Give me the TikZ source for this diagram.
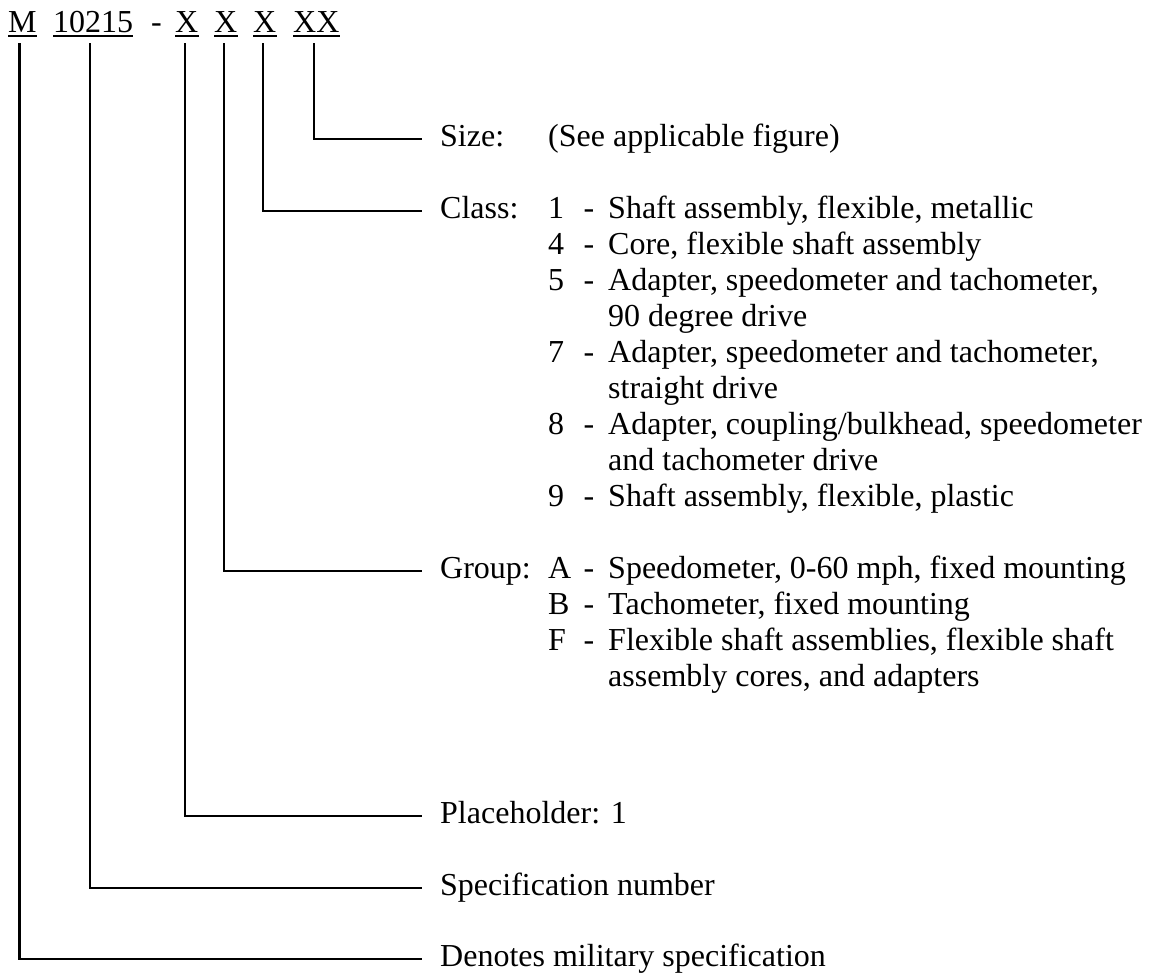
\documentclass[tikz,border=0pt]{standalone}
\usepackage{fontspec}
\setmainfont{Liberation Serif}

\begin{document}
\begin{tikzpicture}[x=1pt,y=-1pt,
  every node/.style={inner sep=0pt,anchor=base west,font=\fontsize{32}{36}\selectfont},
  lead/.style={line width=2.2pt},
  uline/.style={line width=2pt}]

\useasboundingbox (0,0) rectangle (1155,977);

% part number
\node (m) at (8,32) {M};
\node (spec) at (53,32) {10215};
\node (dash) at (151,32) {-};
\node (x1) at (175,32) {X};
\node (x2) at (214,32) {X};
\node (x3) at (253,32) {X};
\node (xx) at (293,32) {XX};

\foreach \p in {m,spec,x1,x2,x3,xx}
  \draw[uline] ([yshift=-4pt]\p.base west) -- ([yshift=-4pt]\p.base east);

% labels
\node (size) at (440,146) {Size:};
\node (sizetxt) at (548,146) {(See applicable figure)};
\node (class) at (440,218) {Class:};
\node (group) at (440,578) {Group:};
\node (place) at (440,823) {Placeholder: 1};
\node (specnum) at (440,895) {Specification number};
\node (denote) at (440,966) {Denotes military specification};

% class entries
\foreach \r/\n/\t in {0/1/{Shaft assembly, flexible, metallic},
    1/4/{Core, flexible shaft assembly},
    2/5/{Adapter, speedometer and tachometer,},
    4/7/{Adapter, speedometer and tachometer,},
    6/8/{Adapter, coupling/bulkhead, speedometer},
    8/9/{Shaft assembly, flexible, plastic}} {
  \node (cn\r) at (548,218+36*\r) {\n};
  \node[anchor=base] (cd\r) at (589,218+36*\r) {-};
  \node (ct\r) at (608,218+36*\r) {\t};
}
\foreach \r/\t in {3/{90 degree drive},5/{straight drive},7/{and tachometer drive}}
  \node (ct\r) at (608,218+36*\r) {\t};

% group entries
\foreach \r/\n/\t in {0/A/{Speedometer, 0-60 mph, fixed mounting},
    1/B/{Tachometer, fixed mounting},
    2/F/{Flexible shaft assemblies, flexible shaft}} {
  \node (gn\r) at (548,578+36*\r) {\n};
  \node[anchor=base] (gd\r) at (589,578+36*\r) {-};
  \node (gt\r) at (608,578+36*\r) {\t};
}
\node (gt3) at (608,686) {assembly cores, and adapters};

% leaders
\draw[lead] ([xshift=-2.5pt,yshift=-11pt]xx.base) |- ([xshift=-18pt,yshift=7pt]size.base west);
\draw[lead] ([xshift=-2pt,yshift=-11pt]x3.base) |- ([xshift=-18pt,yshift=7pt]class.base west);
\draw[lead] ([xshift=-2pt,yshift=-11pt]x2.base) |- ([xshift=-18pt,yshift=7pt]group.base west);
\draw[lead] ([xshift=-2pt,yshift=-11pt]x1.base) |- ([xshift=-18pt,yshift=7pt]place.base west);
\draw[lead] ([xshift=-3pt,yshift=-11pt]spec.base) |- ([xshift=-18pt,yshift=7pt]specnum.base west);
\draw[lead] ([xshift=-3pt,yshift=-11pt]m.base) |- ([xshift=-18pt,yshift=7pt]denote.base west);

\end{tikzpicture}
\end{document}
